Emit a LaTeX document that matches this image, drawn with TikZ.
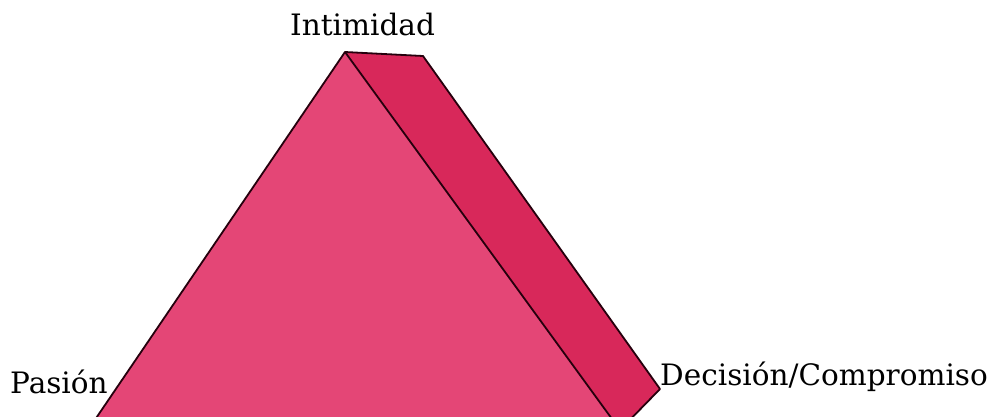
\documentclass[tikz,border=0pt]{standalone}
\usepackage{fontspec}
\setmainfont{DejaVu Serif}
\begin{document}
\begin{tikzpicture}[x=1pt,y=-1pt,
  lbl/.style={anchor=base west,inner sep=0pt,font=\fontsize{29.5}{34}\selectfont},
  edge/.style={draw=black!80!purple,line width=1.8pt,line join=round}]
\definecolor{frontc}{RGB}{228,70,118}
\definecolor{sidec}{RGB}{216,40,90}
\useasboundingbox (0,0) rectangle (994,417);
\begin{scope}
\clip (0,0) rectangle (994,417);
\coordinate (apex) at (345,52);
\coordinate (topr) at (423,56);
\coordinate (sider) at (660,389);
\coordinate (botl) at (88,430);
\coordinate (botr) at (620,430);
\fill[sidec] (apex) -- (topr) -- (sider) -- (botr) -- cycle;
\fill[frontc] (apex) -- (botr) -- (botl) -- cycle;
\draw[edge] (botl) -- (apex) -- (topr) -- (sider) -- (botr);
\draw[edge] (apex) -- (botr);
\end{scope}
\node[lbl] (intim) at (290,36) {Intimidad};
\node[lbl] (pas) at (10,393) {Pasión};
\node[lbl] (dec) at (660,385) {Decisión/Compromiso};
\end{tikzpicture}
\end{document}
